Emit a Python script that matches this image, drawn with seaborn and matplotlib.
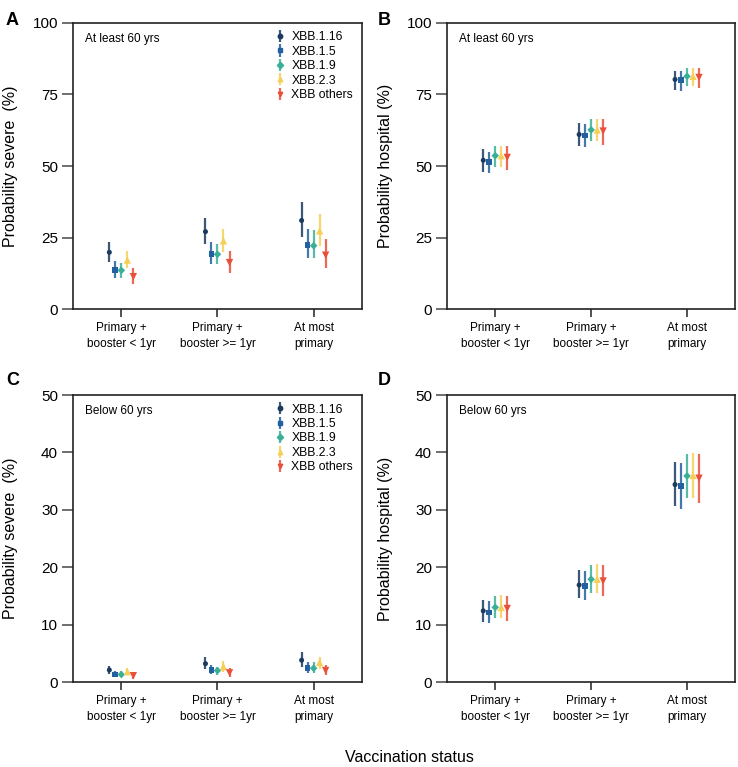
import numpy as np
import pandas as pd
import matplotlib
matplotlib.use("Agg")
import matplotlib.pyplot as plt
import seaborn as sns

# --------- data ---------
STATUS = ["Primary +\nbooster < 1yr", "Primary +\nbooster >= 1yr", "At most\nprimary"]
VARIANTS = ["XBB.1.16", "XBB.1.5", "XBB.1.9", "XBB.2.3", "XBB others"]
COLORS = ["#1b3a5e", "#22609f", "#3aaf98", "#f5cf57", "#e8503a"]
MARKERS = ["o", "s", "D", "^", "v"]
MSIZE = [13, 17, 15, 28, 28]

# rows = variant, cols = vaccination status
SEV_OLD_EST = [[19.9, 27.1, 31.0], [13.7, 19.3, 22.5], [13.6, 19.2, 22.2], [17.2, 23.9, 27.4], [11.4, 16.3, 18.9]]
SEV_OLD_LO = [[16.4, 22.7, 25.2], [11.0, 15.7, 17.8], [11.0, 15.7, 17.8], [14.3, 19.9, 22.2], [8.7, 12.6, 14.3]]
SEV_OLD_HI = [[23.4, 32.0, 37.4], [16.9, 23.6, 28.0], [16.2, 22.8, 27.6], [20.3, 28.0, 33.2], [14.5, 20.4, 24.5]]

HOS_OLD_EST = [[52.0, 61.0, 80.2], [51.4, 60.6, 80.0], [53.6, 62.6, 81.3], [53.6, 62.6, 81.3], [53.0, 62.2, 80.9]]
HOS_OLD_LO = [[48.0, 57.0, 76.5], [47.7, 56.5, 76.3], [49.8, 58.8, 77.9], [49.8, 58.8, 77.9], [48.6, 57.3, 77.1]]
HOS_OLD_HI = [[55.8, 64.9, 83.3], [55.0, 64.5, 83.1], [57.1, 66.3, 84.1], [57.1, 66.4, 84.1], [57.1, 66.4, 84.1]]

SEV_YOUNG_EST = [[2.1, 3.2, 3.8], [1.3, 2.1, 2.5], [1.3, 2.0, 2.4], [1.8, 2.7, 3.4], [1.1, 1.6, 2.0]]
SEV_YOUNG_LO = [[1.4, 2.3, 2.6], [0.8, 1.4, 1.5], [0.8, 1.3, 1.5], [1.2, 1.8, 2.2], [0.5, 0.9, 1.2]]
SEV_YOUNG_HI = [[2.85, 4.3, 5.2], [1.9, 2.9, 3.4], [1.9, 2.7, 3.4], [2.4, 3.7, 4.4], [1.7, 2.4, 3.0]]

HOS_YOUNG_EST = [[12.4, 16.9, 34.4], [12.1, 16.7, 34.1], [13.0, 17.9, 35.9], [13.0, 17.9, 36.0], [12.8, 17.6, 35.5]]
HOS_YOUNG_LO = [[10.5, 14.6, 30.7], [10.3, 14.3, 30.1], [11.2, 15.5, 32.0], [11.2, 15.5, 32.0], [10.7, 14.9, 31.1]]
HOS_YOUNG_HI = [[14.3, 19.5, 38.3], [14.2, 19.3, 38.1], [15.0, 20.4, 39.8], [15.1, 20.5, 39.9], [14.9, 20.4, 39.7]]
# ----------------------------------------------

DODGE = 0.0625


def make_df(est, lo, hi):
    rows = []
    for vi, v in enumerate(VARIANTS):
        for si in range(len(STATUS)):
            rows.append({"variant": v, "x": si + (vi - 2) * DODGE,
                         "est": est[vi][si], "lo": lo[vi][si], "hi": hi[vi][si]})
    return pd.DataFrame(rows)


def draw_panel(ax, df, ylim, yticks, ylabel, note, legend):
    pal = dict(zip(VARIANTS, COLORS))
    handles = []
    for vi, v in enumerate(VARIANTS):
        d = df[df.variant == v]
        err = ax.errorbar(d.x, d.est, yerr=[d.est - d.lo, d.hi - d.est], fmt="none",
                          ecolor=COLORS[vi], elinewidth=1.6, alpha=0.85, capsize=0)
        mk = plt.Line2D([], [], ls="none", marker=MARKERS[vi], color=COLORS[vi], ms=3.2)
        handles.append((err, mk))
    sns.scatterplot(data=df, x="x", y="est", hue="variant", style="variant",
                    hue_order=VARIANTS, style_order=VARIANTS, palette=pal,
                    markers=dict(zip(VARIANTS, MARKERS)), size="variant",
                    sizes=dict(zip(VARIANTS, MSIZE)), linewidth=0, legend=False,
                    ax=ax, zorder=3)
    ax.set_xlim(-0.5, 2.5)
    ax.set_ylim(*ylim)
    ax.set_yticks(yticks)
    ax.set_xticks(range(len(STATUS)))
    ax.set_xticklabels(STATUS, fontsize=8.5, linespacing=1.5)
    ax.tick_params(axis="y", labelsize=11, length=8, width=1.2, color="#555555", pad=3,
                   labelcolor="black")
    ax.tick_params(axis="x", length=6, width=1.2, color="#333333", pad=3, labelcolor="black")
    ax.set_xlabel("")
    ax.set_ylabel(ylabel, fontsize=11.5, color="black")
    ax.yaxis.set_label_coords(-0.19, 0.5)
    for s in ax.spines.values():
        s.set_linewidth(1.2)
        s.set_color("#222222")
    ax.text(0.04, 0.965, note, transform=ax.transAxes, fontsize=8.5, va="top", ha="left")
    if legend:
        ax.legend(handles, VARIANTS, loc="upper right", frameon=False, fontsize=8.8,
                  handlelength=0.8, handletextpad=0.5, labelspacing=0.2,
                  borderaxespad=0.3)


def main():
    sns.set_theme(style="ticks")
    plt.rcParams["font.family"] = ["Liberation Sans", "DejaVu Sans"]
    plt.rcParams["text.color"] = "black"

    fig = plt.figure(figsize=(7.38, 7.67), dpi=100)
    axA = fig.add_axes([0.0993, 0.5967, 0.3908, 0.3737])
    axB = fig.add_axes([0.6061, 0.5967, 0.3898, 0.3737])
    axC = fig.add_axes([0.0993, 0.1108, 0.3908, 0.3742])
    axD = fig.add_axes([0.6061, 0.1108, 0.3898, 0.3742])

    draw_panel(axA, make_df(SEV_OLD_EST, SEV_OLD_LO, SEV_OLD_HI), (0, 100),
               [0, 25, 50, 75, 100], "Probability severe  (%)", "At least 60 yrs", True)
    draw_panel(axB, make_df(HOS_OLD_EST, HOS_OLD_LO, HOS_OLD_HI), (0, 100),
               [0, 25, 50, 75, 100], "Probability hospital (%)", "At least 60 yrs", False)
    draw_panel(axC, make_df(SEV_YOUNG_EST, SEV_YOUNG_LO, SEV_YOUNG_HI), (0, 50),
               [0, 10, 20, 30, 40, 50], "Probability severe  (%)", "Below 60 yrs", True)
    draw_panel(axD, make_df(HOS_YOUNG_EST, HOS_YOUNG_LO, HOS_YOUNG_HI), (0, 50),
               [0, 10, 20, 30, 40, 50], "Probability hospital (%)", "Below 60 yrs", False)

    for lab, (x, y) in zip("ABCD", [(0.008, 0.985), (0.512, 0.985), (0.008, 0.515), (0.512, 0.515)]):
        fig.text(x, y, lab, fontsize=13, fontweight="bold", va="top", ha="left")

    fig.text(0.555, 0.002, "Vaccination status", fontsize=11.5, ha="center", va="bottom")

    fig.savefig("out.png", dpi=100)


if __name__ == "__main__":
    main()
